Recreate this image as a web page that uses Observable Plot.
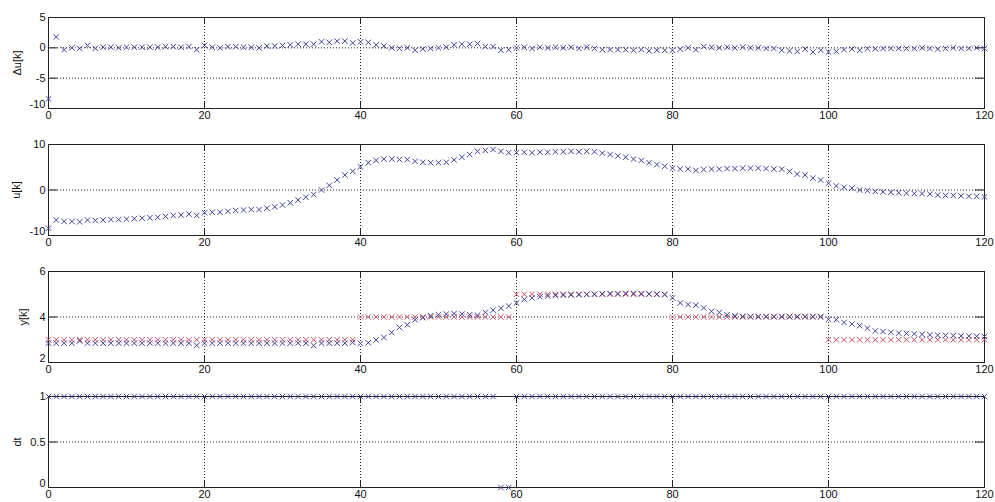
<!DOCTYPE html>
<html><head><meta charset="utf-8">
<script src="https://cdn.jsdelivr.net/npm/d3@7"></script>
<script src="https://cdn.jsdelivr.net/npm/@observablehq/plot@0.6"></script>
<style>
html,body{margin:0;padding:0;background:#fff;}
#chart{position:relative;width:995px;height:502px;overflow:hidden;}
#chart > svg{position:absolute;left:0;}
</style></head><body><div id="chart"></div>
<script>
// sample index k = 0..120
const k = d3.range(121);

// Δu[k]
const du = [
 -8.4, 1.8,-0.3, 0.0,-0.1, 0.4,-0.1, 0.1, 0.1, 0.0, 0.1, 0.1, 0.1, 0.1, 0.1, 0.2, 0.2, 0.1, 0.2,-0.3,
  0.4, 0.1, 0.0, 0.2, 0.2, 0.1, 0.1, 0.0, 0.3, 0.3, 0.4, 0.5, 0.6, 0.6, 0.6, 1.0, 0.9, 1.1, 1.1, 0.8,
  1.0, 0.9, 0.5, 0.3, 0.0,-0.1, 0.0,-0.4,-0.2,-0.1, 0.0, 0.1, 0.5, 0.6, 0.6, 0.7, 0.2, 0.2,-0.4,-0.3,
  0.0, 0.1,-0.1, 0.1, 0.0, 0.1, 0.0, 0.1,-0.1, 0.1,-0.1,-0.3,-0.3,-0.3,-0.3,-0.4,-0.3,-0.5,-0.4,-0.4,
 -0.4,-0.2, 0.0,-0.3, 0.2, 0.1, 0.0, 0.1, 0.0, 0.1, 0.0, 0.0,-0.1,-0.1,-0.4,-0.5,-0.6,-0.2,-0.7,-0.4,
 -0.7,-0.6,-0.3,-0.2,-0.4,-0.15,-0.15,-0.1,-0.1,-0.1,-0.1,-0.1, 0.0,-0.1,-0.2,-0.1, 0.0,-0.1,-0.1, 0.0,
 -0.1
];

// u[k]
const u = [
 -8.4,-6.6,-6.9,-6.9,-7.0,-6.6,-6.7,-6.6,-6.5,-6.5,-6.4,-6.3,-6.2,-6.1,-6.0,-5.8,-5.6,-5.5,-5.3,-5.6,
 -5.0,-4.9,-4.9,-4.7,-4.5,-4.4,-4.3,-4.3,-4.0,-3.7,-3.3,-2.8,-2.2,-1.6,-1.0, 0.0, 1.0, 2.2, 3.3, 4.1,
  5.1, 6.0, 6.5, 6.8, 6.8, 6.7, 6.7, 6.3, 6.1, 6.0, 6.0, 6.1, 6.6, 7.2, 7.8, 8.5, 8.7, 8.9, 8.5, 8.2,
  8.2, 8.3, 8.2, 8.3, 8.3, 8.4, 8.4, 8.5, 8.4, 8.5, 8.4, 8.1, 7.8, 7.5, 7.2, 6.8, 6.5, 6.0, 5.6, 5.2,
  4.8, 4.6, 4.6, 4.3, 4.5, 4.6, 4.6, 4.7, 4.7, 4.8, 4.8, 4.8, 4.7, 4.6, 4.6, 4.1, 3.5, 3.3, 2.6, 2.2,
  1.5, 0.9, 0.6, 0.4, 0.0,-0.15,-0.3,-0.4,-0.5,-0.6,-0.7,-0.8,-0.8,-0.9,-1.1,-1.2,-1.2,-1.3,-1.4,-1.4,
 -1.5
];

// y[k] output (blue)
const yOut = [
 2.85,2.85,2.85,2.85,2.95,2.85,2.85,2.85,2.85,2.85,2.85,2.85,2.85,2.85,2.85,2.85,2.85,2.85,2.85,2.75,
 2.85,2.85,2.85,2.85,2.85,2.85,2.85,2.85,2.85,2.85,2.85,2.85,2.85,2.85,2.75,2.85,2.85,2.85,2.85,2.88,
 2.84,2.87,2.99,3.10,3.32,3.54,3.66,3.88,3.97,4.06,4.10,4.13,4.15,4.13,4.10,4.08,4.20,4.30,4.38,4.48,
 4.62,4.77,4.84,4.89,4.92,4.95,4.96,4.97,4.98,4.99,5.00,5.02,5.03,5.03,5.04,5.04,5.03,5.02,5.00,4.98,
 4.84,4.62,4.55,4.52,4.40,4.25,4.20,4.10,4.05,4.03,4.02,4.02,4.02,4.02,4.02,4.02,4.02,4.02,4.02,4.02,
 3.90,3.88,3.76,3.69,3.62,3.51,3.39,3.36,3.33,3.29,3.28,3.26,3.24,3.22,3.20,3.19,3.18,3.17,3.16,3.15,
 3.14
];

// reference r[k] (red)
const yRef = [
 3,3,3,3,3,3,3,3,3,3,3,3,3,3,3,3,3,3,3,3,
 3,3,3,3,3,3,3,3,3,3,3,3,3,3,3,3,3,3,3,3,
 4,4,4,4,4,4,4,4,4,4,4,4,4,4,4,4,4,4,4,4,
 5,5,5,5,5,5,5,5,5,5,5,5,5,5,5,5,5,5,5,5,
 4,4,4,4,4,4,4,4,4,4,4,4,4,4,4,4,4,4,4,4,
 3,3,3,3,3,3,3,3,3,3,3,3,3,3,3,3,3,3,3,3,
 3
];

// dt[k]
const dt = [
 1,1,1,1,1,1,1,1,1,1,1,1,1,1,1,1,1,1,1,1,
 1,1,1,1,1,1,1,1,1,1,1,1,1,1,1,1,1,1,1,1,
 1,1,1,1,1,1,1,1,1,1,1,1,1,1,1,1,1,1,0,0,
 1,1,1,1,1,1,1,1,1,1,1,1,1,1,1,1,1,1,1,1,
 1,1,1,1,1,1,1,1,1,1,1,1,1,1,1,1,1,1,1,1,
 1,1,1,1,1,1,1,1,1,1,1,1,1,1,1,1,1,1,1,1,
 1
];

const xTicks = [0, 20, 40, 60, 80, 100, 120];
const BLUE = "#42429a";
const RED = "#c9566a";

const panels = [
  {label: "Δu[k]", top: 0,   domain: [-10, 5], ticks: [-10, -5, 0, 5], labelOffset: 35, series: [{v: du, c: BLUE}]},
  {label: "u[k]",  top: 127, domain: [-10, 10], ticks: [-10, 0, 10],  labelOffset: 36, series: [{v: u, c: BLUE}]},
  {label: "y[k]",  top: 254, domain: [2, 6],   ticks: [2, 4, 6],      labelOffset: 29, series: [{v: yRef, c: RED}, {v: yOut, c: BLUE}]},
  {label: "dt",    top: 379, domain: [0, 1],   ticks: [0, 0.5, 1],    labelOffset: 35, series: [{v: dt, c: BLUE}]}
];

const W = 995, ML = 48, MR = 11, MT = 17, PH = 91, PW = W - ML - MR;
const fmt = d => String(d).replace("−", "-");
const chart = document.getElementById("chart");

for (const p of panels) {
  const MB = p.top === 379 ? 15 : 19;
  const lo = p.domain[0], hi = p.domain[1];
  const innerY = p.ticks.filter(t => t !== lo && t !== hi);
  const innerX = xTicks.filter(t => t !== 0 && t !== 120);
  const marks = [
    Plot.ruleY(innerY, {y: d => d, stroke: "#222", strokeDasharray: "1,2", strokeWidth: 1}),
    Plot.ruleX(innerX, {x: d => d, stroke: "#222", strokeDasharray: "1,2", strokeWidth: 1}),
    Plot.ruleX(xTicks, {x: d => d, stroke: "#222", insetTop: PH - 6}),
    Plot.ruleX(xTicks, {x: d => d, stroke: "#222", insetBottom: PH - 6}),
    Plot.ruleY(p.ticks, {y: d => d, stroke: "#222", insetRight: PW - 9}),
    Plot.ruleY(p.ticks, {y: d => d, stroke: "#222", insetLeft: PW - 9}),
    Plot.frame({stroke: "#222"}),
    Plot.axisX(xTicks, {tickSize: 0, tickPadding: 3, tickFormat: fmt, label: null, fill: "#111"}),
    Plot.axisY(p.ticks.slice(1), {tickSize: 0, tickPadding: 3, tickFormat: fmt, fill: "#111",
      label: p.label, labelAnchor: "center", labelArrow: "none", labelOffset: p.labelOffset}),
    Plot.axisY(p.ticks.slice(0, 1), {tickSize: 0, tickPadding: 3, tickFormat: fmt, fill: "#111", dy: -4, label: null})
  ];
  for (const s of p.series) {
    const data = k.map((kk, i) => ({k: kk, v: s.v[i]}));
    marks.push(Plot.dot(data, {x: "k", y: "v", symbol: "times", r: 2.6, stroke: s.c, strokeWidth: 1}));
  }
  const svg = Plot.plot({
    width: W,
    height: MT + PH + MB,
    marginLeft: ML, marginRight: MR, marginTop: MT, marginBottom: MB,
    x: {domain: [0, 120]},
    y: {domain: p.domain},
    style: {fontFamily: "'Liberation Sans', Arial, sans-serif", fontSize: "11px", background: "transparent", overflow: "visible"},
    marks
  });
  svg.style.top = p.top + "px";
  chart.appendChild(svg);
}
</script>
</body></html>
